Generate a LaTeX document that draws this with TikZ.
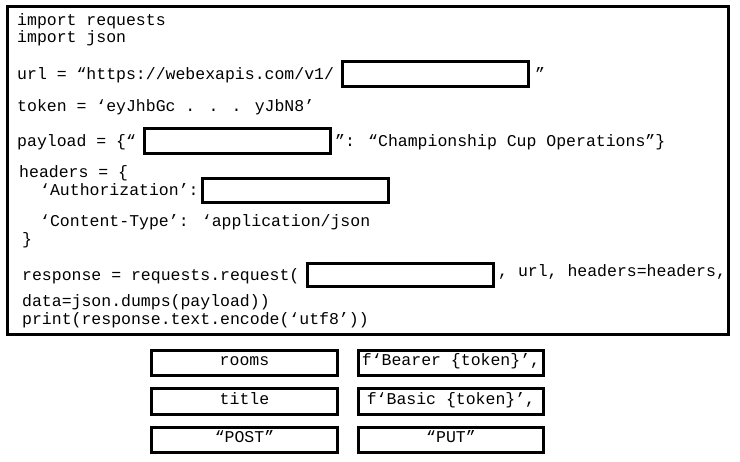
\documentclass[tikz,border=0pt]{standalone}
\usepackage{fontspec}
\newfontfamily\codefont{Liberation Mono}
\begin{document}
\begin{tikzpicture}[x=1pt,y=-1pt,
  code/.style={anchor=base west, inner sep=0pt, font=\codefont\fontsize{16.5}{18}\selectfont},
  blank/.style={draw, line width=3pt, inner sep=0pt, minimum width=186pt},
  choice/.style={draw, line width=3pt, inner sep=0pt, minimum width=186pt, minimum height=25pt,
    text height=10pt, text depth=4pt, font=\codefont\fontsize{16.5}{18}\selectfont}]
\useasboundingbox (0,0) rectangle (740,462);
% outer frame
\draw[line width=3pt] (7,6.5) rectangle (728.5,334.5);
% code lines
\node[code] (l1) at (17,26) {import requests};
\node[code] (l2) at (17,43) {import json};
\node[code] (l3) at (17,80) {url = “https://webexapis.com/v1/};
\node[blank, minimum height=25pt] (urlbox) at (435.5,74) {};
\node[code] (l3b) at (535,80) {”};
\node[code] (l4) at (17,112) {token = ‘eyJhbGc . . . yJbN8’};
\node[code] (l5) at (17,147) {payload = \{“};
\node[blank, minimum height=25pt] (paybox) at (237.5,141) {};
\node[code] (l5b) at (335,147) {”: “Championship Cup Operations”\}};
\node[code] (l6) at (19,178) {headers = \{};
\node[code] (l7) at (40,196) {‘Authorization’:};
\node[blank, minimum height=24pt] (authbox) at (295.5,190.5) {};
\node[code] (l8) at (40,227) {‘Content-Type’: ‘application/json};
\node[code] (l9) at (22,245) {\}};
\node[code] (l10) at (22,281) {response = requests.request(};
\node[blank, minimum height=23pt] (methbox) at (400.5,275) {};
\node[code] (l10b) at (498,277) {, url, headers=headers,};
\node[code] (l11) at (22,307) {data=json.dumps(payload))};
\node[code] (l12) at (22,325) {print(response.text.encode(‘utf8’))};
% answer choices
\node[choice] (rooms) at (244.5,363) {rooms};
\node[choice, minimum width=185pt] (bearer) at (451,363) {f‘Bearer \{token\}’,};
\node[choice, minimum height=26pt] (title) at (244.5,401.5) {title};
\node[choice, minimum width=185pt, minimum height=26pt] (basic) at (451,401.5) {f‘Basic \{token\}’,};
\node[choice] (post) at (244.5,440) {“POST”};
\node[choice, minimum width=185pt] (put) at (451,440) {“PUT”};
\end{tikzpicture}
\end{document}
